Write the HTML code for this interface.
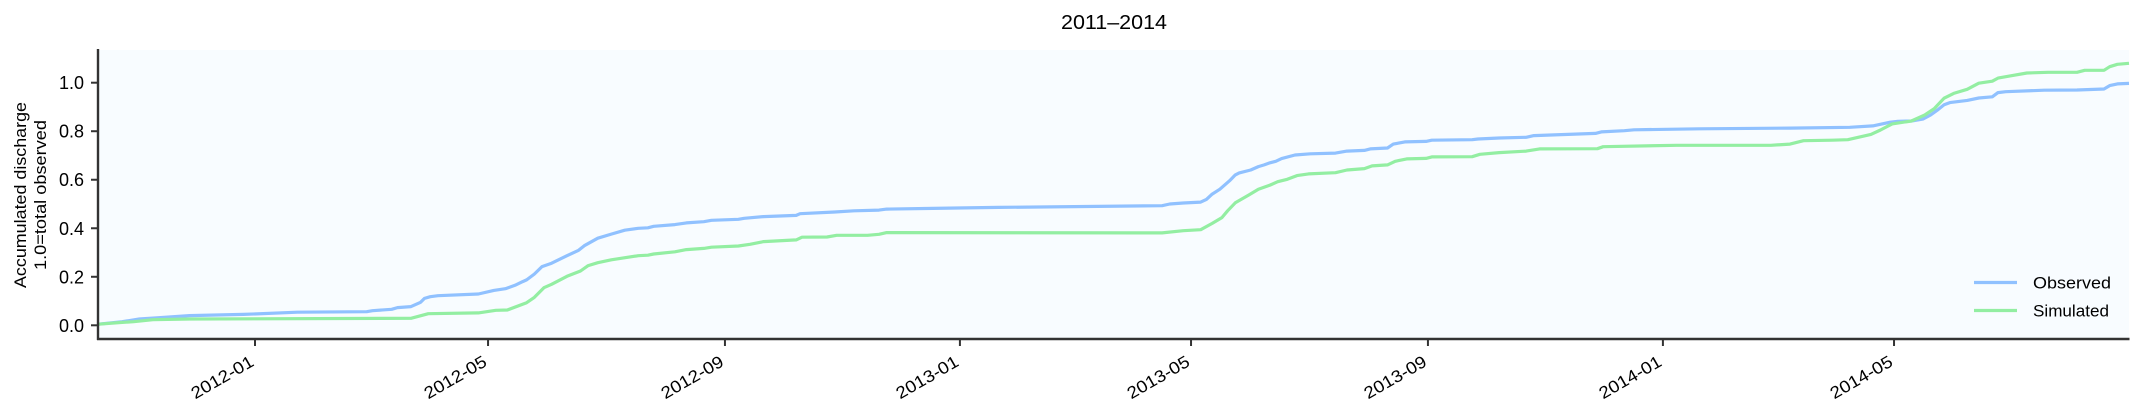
<!DOCTYPE html>
<html lang="en">
<head>
<meta charset="utf-8">
<title>2011–2014</title>
<style>
html,body{margin:0;padding:0;background:#fff;width:2143px;height:415px;overflow:hidden}
svg{display:block}
text{font-family:"Liberation Sans",sans-serif;fill:#000}
</style>
</head>
<body>
<svg id="chart" width="2143" height="415" viewBox="0 0 2143 415" xmlns="http://www.w3.org/2000/svg">
  <rect x="98" y="50" width="2031" height="289" fill="#f8fcff"/>
  <text x="1114" y="29" font-size="20" text-anchor="middle" textLength="106" lengthAdjust="spacingAndGlyphs">2011–2014</text>
  <g>
    <text transform="translate(26,195) rotate(-90)" font-size="16.5" text-anchor="middle" textLength="186" lengthAdjust="spacingAndGlyphs">Accumulated discharge</text>
    <text transform="translate(46,195) rotate(-90)" font-size="16.5" text-anchor="middle" textLength="150" lengthAdjust="spacingAndGlyphs">1.0=total observed</text>
  </g>
  <g id="series-layer"></g>
  <g id="tick-layer"></g>
  <line x1="98" y1="49" x2="98" y2="340" stroke="#333" stroke-width="2.4"/>
  <line x1="97" y1="339" x2="2129.5" y2="339" stroke="#333" stroke-width="2.4"/>
  <g>
    <line x1="1974" y1="282.5" x2="2017" y2="282.5" stroke="#90c1ff" stroke-width="3.2"/>
    <text x="2033" y="288.5" font-size="17" textLength="78" lengthAdjust="spacingAndGlyphs">Observed</text>
    <line x1="1974" y1="310.5" x2="2017" y2="310.5" stroke="#93eea2" stroke-width="3.2"/>
    <text x="2033" y="316.5" font-size="17" textLength="76" lengthAdjust="spacingAndGlyphs">Simulated</text>
  </g>
</svg>
<script>
// Days since 2012-01-01 and accumulated discharge.
const observedDays = [-82,-69,-60,-51,-34,-6,22,58,61,71,74,81,86,88,91,95,116,124,130,135,139,141,145,149,154,162,168,171,178,185,192,199,204,207,218,224,233,237,251,254,264,281,283,301,311,324,328,352,386,471,475,482,491,494,497,501,506,509,511,517,521,524,527,530,533,540,548,561,567,576,579,588,591,597,608,611,632,635,646,660,664,696,699,711,716,750,797,828,840,849,853,860,866,870,874,877,880,889,895,902,905,909,929,946,960,963,967,973];
const observedValues = [.004,.015,.026,.031,.040,.045,.054,.056,.060,.066,.073,.077,.095,.111,.118,.122,.129,.144,.151,.165,.180,.187,.211,.242,.256,.287,.309,.328,.359,.376,.392,.400,.402,.408,.415,.422,.427,.433,.437,.441,.448,.453,.460,.467,.472,.475,.479,.482,.486,.493,.500,.504,.508,.519,.541,.561,.596,.620,.628,.640,.654,.661,.670,.676,.687,.702,.707,.710,.718,.721,.727,.731,.747,.756,.758,.763,.765,.768,.772,.775,.782,.791,.797,.802,.806,.810,.813,.816,.822,.837,.841,.842,.850,.867,.890,.909,.918,.927,.937,.942,.959,.963,.969,.970,.974,.988,.995,.997];
const simulatedDays = [-82,-69,-63,-53,-34,81,90,116,125,131,141,145,150,154,162,169,173,178,185,199,204,207,218,224,233,237,251,257,264,281,284,297,302,318,324,328,464,471,482,491,497,502,505,509,516,521,527,531,536,541,547,561,567,576,580,588,592,598,608,611,632,636,646,660,667,697,700,738,787,797,804,819,827,839,844,850,860,867,872,877,882,889,895,902,905,912,920,931,946,950,960,963,967,973];
const simulatedValues = [.004,.012,.015,.023,.026,.029,.048,.051,.062,.063,.093,.115,.155,.169,.202,.224,.246,.258,.270,.287,.289,.294,.303,.312,.317,.322,.327,.334,.345,.352,.363,.364,.371,.371,.375,.382,.381,.381,.390,.394,.420,.444,.472,.505,.537,.561,.578,.592,.602,.617,.624,.629,.640,.646,.657,.661,.676,.686,.688,.694,.695,.705,.712,.718,.727,.728,.736,.742,.742,.747,.761,.763,.765,.787,.805,.830,.842,.867,.894,.936,.956,.973,.998,1.006,1.019,1.029,1.040,1.043,1.043,1.051,1.051,1.066,1.076,1.080];
const xTickLabels = ['2012-01','2012-05','2012-09','2013-01','2013-05','2013-09','2014-01','2014-05'];
const yTickValues = [0,0.2,0.4,0.6,0.8,1.0];

const NS = 'http://www.w3.org/2000/svg';
const xScale = d => 255 + 1.926 * d;
const yScale = v => 325.3 - 242.6 * v;
const labelToDay = s => {
  const p = s.split('-');
  return (Date.UTC(+p[0], +p[1] - 1, 1) - Date.UTC(2012, 0, 1)) / 86400000;
};
const toPoints = (days, vals) => days.map((d, i) => xScale(d).toFixed(1) + ',' + yScale(vals[i]).toFixed(1)).join(' ');

const seriesLayer = document.getElementById('series-layer');
const tickLayer = document.getElementById('tick-layer');

const observedLine = document.createElementNS(NS, 'polyline');


observedLine.setAttribute('points', toPoints(observedDays, observedValues));
observedLine.setAttribute('fill', 'none');
observedLine.setAttribute('stroke', '#90c1ff');
observedLine.setAttribute('stroke-width', '3.2');
observedLine.setAttribute('stroke-linejoin', 'round');
seriesLayer.appendChild(observedLine);

const simulatedLine = document.createElementNS(NS, 'polyline');


simulatedLine.setAttribute('points', toPoints(simulatedDays, simulatedValues));
simulatedLine.setAttribute('fill', 'none');
simulatedLine.setAttribute('stroke', '#93eea2');
simulatedLine.setAttribute('stroke-width', '3.2');
simulatedLine.setAttribute('stroke-linejoin', 'round');
seriesLayer.appendChild(simulatedLine);

xTickLabels.forEach(label => {
  const x = xScale(labelToDay(label));
  const tick = document.createElementNS(NS, 'line');
  
  
  tick.setAttribute('x1', x);
  tick.setAttribute('x2', x);
  tick.setAttribute('y1', 339);
  tick.setAttribute('y2', 346);
  tick.setAttribute('stroke', '#333');
  tick.setAttribute('stroke-width', '2');
  tickLayer.appendChild(tick);
  const text = document.createElementNS(NS, 'text');
  
  
  text.setAttribute('transform', 'translate(' + x + ',365) rotate(-30)');
  text.setAttribute('font-size', '17');
  text.setAttribute('text-anchor', 'end');
  text.setAttribute('textLength', '69');
  text.setAttribute('lengthAdjust', 'spacingAndGlyphs');
  text.textContent = label;
  tickLayer.appendChild(text);
});

yTickValues.forEach(value => {
  const y = yScale(value);
  const tick = document.createElementNS(NS, 'line');
  
  
  tick.setAttribute('x1', 91);
  tick.setAttribute('x2', 98);
  tick.setAttribute('y1', y);
  tick.setAttribute('y2', y);
  tick.setAttribute('stroke', '#333');
  tick.setAttribute('stroke-width', '2');
  tickLayer.appendChild(tick);
  const text = document.createElementNS(NS, 'text');
  
  
  text.setAttribute('x', 84);
  text.setAttribute('y', y + 6.5);
  text.setAttribute('font-size', '18');
  text.setAttribute('text-anchor', 'end');
  text.textContent = value.toFixed(1);
  tickLayer.appendChild(text);
});
</script>
</body>
</html>
